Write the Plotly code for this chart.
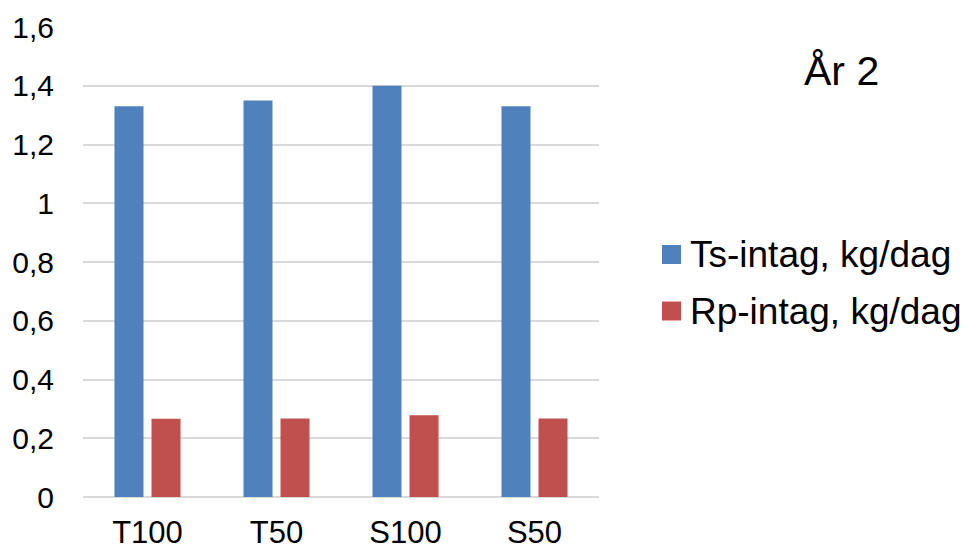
import plotly.graph_objects as go

# Daily intake per treatment group, year 2
categories = ["T100", "T50", "S100", "S50"]
ts_intake = [1.33, 1.35, 1.40, 1.33]
rp_intake = [0.266, 0.267, 0.278, 0.267]
series_names = ["Ts-intag, kg/dag", "Rp-intag, kg/dag"]
series_colors = ["#4F81BD", "#C0504D"]
y_ticks = [0, 0.2, 0.4, 0.6, 0.8, 1.0, 1.2, 1.4, 1.6]
y_tick_labels = ["0", "0,2", "0,4", "0,6", "0,8", "1", "1,2", "1,4", "1,6"]
chart_title = "År 2"

W, H = 967, 550
L, R, T, B = 83, 368, 27, 53
FONT = "Liberation Sans, Arial, sans-serif"


def px_x(p):
    return (p - L) / (W - L - R)


def px_y(p):
    return (H - B - p) / (H - T - B)


fig = go.Figure()
for name, vals, col in zip(series_names, [ts_intake, rp_intake], series_colors):
    fig.add_trace(go.Bar(x=categories, y=vals, name=name, marker_color=col,
                         marker_line_width=0, showlegend=False))

# Legend drawn as square swatches with text
legend_rows = [254.5, 311]
for name, col, yc in zip(series_names, series_colors, legend_rows):
    fig.add_shape(type="rect", xref="paper", yref="paper",
                  x0=px_x(662), x1=px_x(681), y0=px_y(yc + 9.5), y1=px_y(yc - 9.5),
                  fillcolor=col, line_width=0)
    fig.add_annotation(text=name, xref="paper", yref="paper", x=px_x(688), y=px_y(yc),
                       xanchor="left", yanchor="middle", showarrow=False,
                       font=dict(family=FONT, size=37, color="#000000"))

fig.add_annotation(text=chart_title, xref="paper", yref="paper", x=px_x(841), y=px_y(71),
                   xanchor="center", yanchor="middle", showarrow=False,
                   font=dict(family=FONT, size=41, color="#000000"))

fig.update_layout(
    width=W, height=H,
    margin=dict(l=L, r=R, t=T, b=B),
    paper_bgcolor="white", plot_bgcolor="white",
    barmode="group", bargap=0.426, bargroupgap=0.216,
    separators=", ",
    font=dict(family=FONT, color="#000000"),
)
fig.update_xaxes(showgrid=False, showline=False, ticks="", automargin=False,
                 tickfont=dict(size=31, color="#000000"), ticklabelstandoff=14)
fig.update_yaxes(range=[0, 1.6], tickvals=y_ticks, ticktext=y_tick_labels,
                 showgrid=True, gridcolor="#D9D9D9", gridwidth=1.5,
                 zeroline=True, zerolinecolor="#D9D9D9", zerolinewidth=1.5,
                 showline=False, ticks="", ticklabelstandoff=28, automargin=False,
                 tickfont=dict(size=30, color="#000000"))

fig.write_html("out.html")
